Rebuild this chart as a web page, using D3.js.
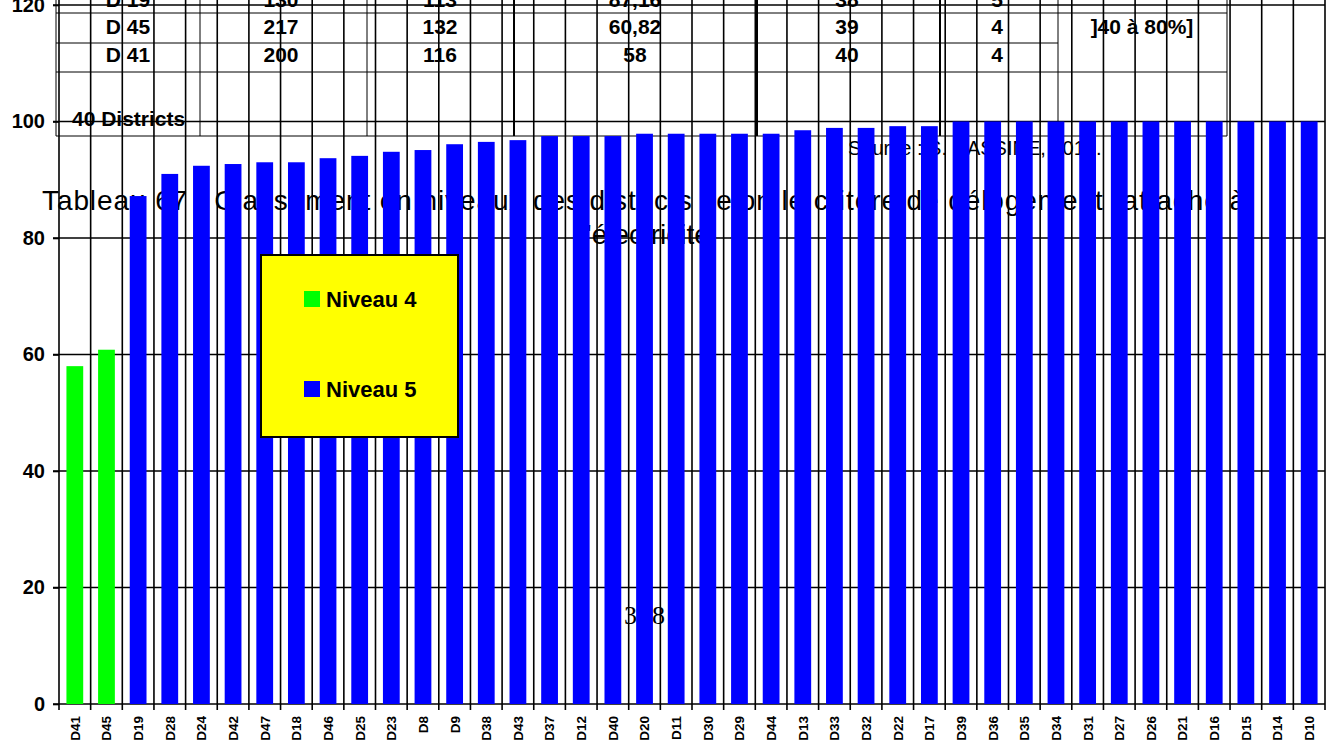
<!DOCTYPE html>
<html><head><meta charset="utf-8">
<script src="https://cdn.jsdelivr.net/npm/d3@7/dist/d3.min.js"></script>
<style>
html,body{margin:0;padding:0;background:#fff;}
svg{display:block;}
</style></head>
<body>
<svg id="chart" width="1336" height="742"></svg>
<script>
// ---- data ----
const districts = ["D41","D45","D19","D28","D24","D42","D47","D18","D46","D25","D23","D8","D9","D38","D43","D37","D12","D40","D20","D11","D30","D29","D44","D13","D33","D32","D22","D17","D39","D36","D35","D34","D31","D27","D26","D21","D16","D15","D14","D10"];
const values = [58,60.82,87.2,91.0,92.4,92.7,93.0,93.0,93.7,94.1,94.8,95.1,96.1,96.5,96.8,97.5,97.5,97.5,97.9,97.9,97.9,97.9,97.9,98.5,98.9,98.9,99.2,99.2,100,100,100,100,100,100,100,100,100,100,100,100];
const levels = [4,4,5,5,5,5,5,5,5,5,5,5,5,5,5,5,5,5,5,5,5,5,5,5,5,5,5,5,5,5,5,5,5,5,5,5,5,5,5,5];
const yTicks = [0,20,40,60,80,100,120];
const legendLabels = ["Niveau 4","Niveau 5"];
const tableRows = [
  ["D 19","130","113","87,16","38","5"],
  ["D 45","217","132","60,82","39","4"],
  ["D 41","200","116","58","40","4"]
];
const tableNote = "]40 à 80%]";
const tableFooter = "40 Districts";
const titleLine1 = "Tableau 67 : Classement en niveaux des districts selon le critère de délogement rattaché à";
const titleLine2 = "l'électricité";
const sourceText = "Source : S. HASSINE, 2012.";
const pageNumber = "328";

// ---- setup ----
const svg = d3.select("#chart");
const colorOf = d3.scaleOrdinal().domain([4,5]).range(["#00ff00","#0000ff"]);
const x = d3.scaleBand().domain(districts).range([59,1325]).paddingInner(0.47).paddingOuter(0.235);
const y = d3.scaleLinear().domain([0,120]).range([704,5]);
const step = x.step();
const x0 = 59;

// ---- background table (overlay) ----
const tbl = svg.append("g");
const tCols = [56,200,367,514,757,940,1058,1227];
const thick = {514:1,757:1,940:1};
tbl.selectAll("line.tv").data(tCols).join("line")
  .attr("x1",d=>d).attr("x2",d=>d).attr("y1",0).attr("y2",136)
  .attr("stroke","#000").attr("stroke-width",d=>thick[d]?2:1);
const tRowsLines = [[56,1227,13],[56,1058,43],[56,1227,72],[56,1227,136]];
tbl.selectAll("line.th").data(tRowsLines).join("line")
  .attr("x1",d=>d[0]).attr("x2",d=>d[1]).attr("y1",d=>d[2]).attr("y2",d=>d[2])
  .attr("stroke","#000").attr("stroke-width",1);

const colCenters = [128,281,440,635,847,997];
const rowBase = [7,34,62];
tableRows.forEach((row,ri)=>{
  tbl.selectAll(null).data(row).join("text")
    .attr("x",(d,i)=>colCenters[i]).attr("y",rowBase[ri])
    .attr("text-anchor","middle")
    .attr("font-family","'Liberation Sans Narrow','Arial Narrow',sans-serif")
    .attr("font-weight","bold").attr("font-size",21).attr("fill","#000")
    .text(d=>d);
});
tbl.append("text").attr("x",1142).attr("y",34).attr("text-anchor","middle")
  .attr("font-family","'Liberation Sans Narrow','Arial Narrow',sans-serif")
  .attr("font-weight","bold").attr("font-size",21).text(tableNote);
tbl.append("text").attr("x",72).attr("y",126)
  .attr("font-family","'Liberation Sans Narrow','Arial Narrow',sans-serif")
  .attr("font-weight","bold").attr("font-size",21).text(tableFooter);

// ---- page text behind bars ----
svg.append("text").attr("x",42).attr("y",210)
  .attr("font-family","'Liberation Sans',Arial,sans-serif").attr("font-size",28)
  .attr("textLength",1203).attr("lengthAdjust","spacing").text(titleLine1);
svg.append("text").attr("x",645).attr("y",244).attr("text-anchor","middle")
  .attr("font-family","'Liberation Sans',Arial,sans-serif").attr("font-size",28)
  .text(titleLine2);
svg.append("text").attr("x",848).attr("y",155)
  .attr("font-family","'Liberation Sans',Arial,sans-serif").attr("font-size",20)
  .text(sourceText);
svg.append("text").attr("x",645).attr("y",624).attr("text-anchor","middle")
  .attr("font-family","'Liberation Serif','Times New Roman',serif").attr("font-size",26)
  .attr("letter-spacing",1).text(pageNumber);

// ---- grid ----
const grid = svg.append("g");
grid.selectAll("line.hg").data(yTicks).join("line")
  .attr("x1",53).attr("x2",1325).attr("y1",d=>y(d)).attr("y2",d=>y(d))
  .attr("stroke","#000").attr("stroke-width",1.6);
const bounds = d3.range(districts.length+1).map(k=>x0+k*step);
grid.selectAll("line.vg").data(bounds).join("line")
  .attr("x1",d=>d).attr("x2",d=>d).attr("y1",0).attr("y2",710)
  .attr("stroke","#000").attr("stroke-width",1.6);

// ---- bars ----
svg.append("g").selectAll("rect").data(districts).join("rect")
  .attr("x",d=>x(d)).attr("width",x.bandwidth())
  .attr("y",(d,i)=>y(values[i])).attr("height",(d,i)=>y(0)-y(values[i]))
  .attr("fill",(d,i)=>colorOf(levels[i]));

// ---- axes ----
const yAxis = svg.append("g").attr("transform","translate(59,0)")
  .call(d3.axisLeft(y).tickValues(yTicks).tickSize(6).tickPadding(8));
yAxis.select(".domain").remove();
yAxis.selectAll("line").attr("stroke","#000").attr("stroke-width",1.6);
yAxis.selectAll("text").attr("font-family","'Liberation Sans',Arial,sans-serif")
  .attr("font-weight","bold").attr("font-size",20).attr("fill","#000");

const xAxis = svg.append("g").attr("transform","translate(0,704)")
  .call(d3.axisBottom(x).tickSize(0));
xAxis.select(".domain").remove();
xAxis.selectAll("text")
  .attr("transform","rotate(-90)").attr("text-anchor","end")
  .attr("x",-12).attr("y",0).attr("dy","0.36em")
  .attr("font-family","'Liberation Sans',Arial,sans-serif")
  .attr("font-weight","bold").attr("font-size",13.5).attr("fill","#000");

// ---- legend ----
const lg = svg.append("g");
lg.append("rect").attr("x",261).attr("y",255).attr("width",197).attr("height",182)
  .attr("fill","#ffff00").attr("stroke","#000").attr("stroke-width",2);
const legendY = [299,389];
legendLabels.forEach((lab,i)=>{
  lg.append("rect").attr("x",304).attr("y",legendY[i]-8).attr("width",16).attr("height",16)
    .attr("fill",colorOf([4,5][i]));
  lg.append("text").attr("x",326).attr("y",legendY[i]).attr("dy","0.36em")
    .attr("font-family","'Liberation Sans',Arial,sans-serif").attr("font-weight","bold")
    .attr("font-size",22).attr("fill","#000").text(lab);
});
</script>
</body></html>
